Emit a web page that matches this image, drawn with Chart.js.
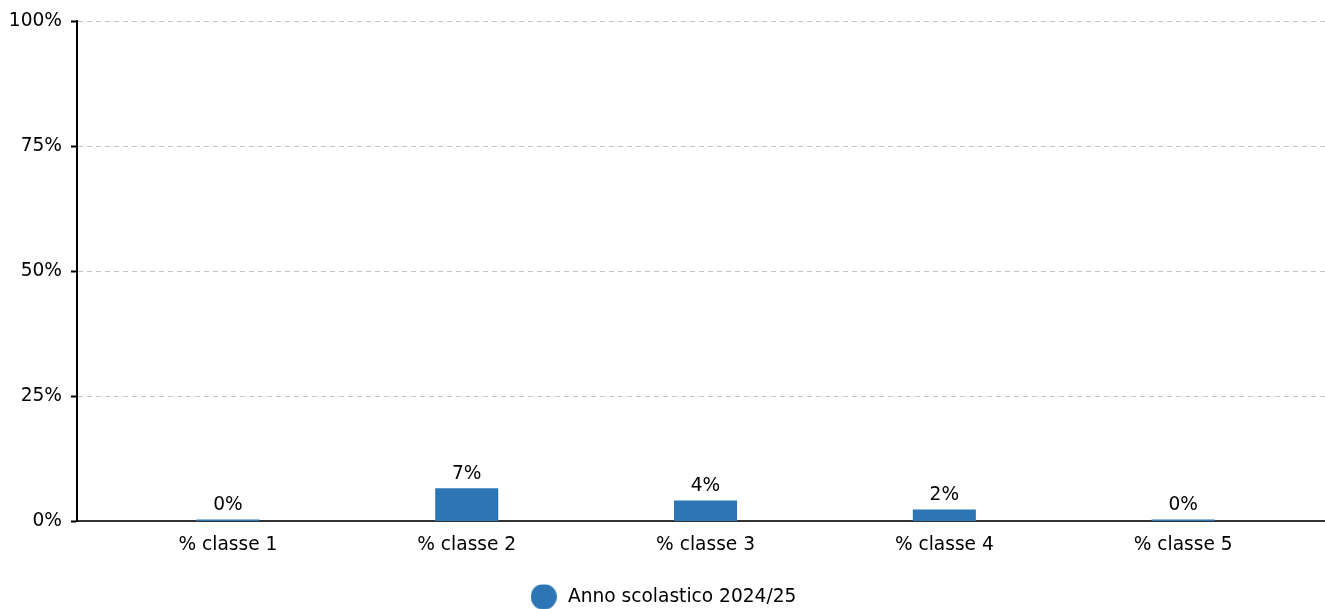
<!DOCTYPE html>
<html>
<head>
<meta charset="utf-8">
<script src="https://cdn.jsdelivr.net/npm/chart.js@4/dist/chart.umd.min.js"></script>
<style>
  html, body { margin: 0; padding: 0; background: #fff; }
  #wrap { width: 1325px; height: 609px; }
</style>
</head>
<body>
<div id="wrap"><canvas id="chart"></canvas></div>
<script>
const categories = ['% classe 1', '% classe 2', '% classe 3', '% classe 4', '% classe 5'];
const values = [0, 6.6, 4.2, 2.4, 0];
const valueLabels = ['0%', '7%', '4%', '2%', '0%'];
const yTicks = [0, 25, 50, 75, 100];
const seriesName = 'Anno scolastico 2024/25';

const FONT = "'DejaVu Sans', sans-serif";
const FSIZE = 18.6;
const BLUE = '#2e75b6';

// round legend marker
const dot = document.createElement('canvas');
dot.width = 26; dot.height = 26;
const dctx = dot.getContext('2d');
dctx.fillStyle = BLUE;
dctx.beginPath();
dctx.arc(13, 13, 13, 0, Math.PI * 2);
dctx.fill();

// labels above each bar
const barLabels = {
    id: 'barLabels',
    afterDatasetsDraw(chart) {
        const ctx = chart.ctx;
        const meta = chart.getDatasetMeta(0);
        ctx.save();
        ctx.font = FSIZE + 'px ' + FONT;
        ctx.fillStyle = '#000';
        ctx.textAlign = 'center';
        ctx.textBaseline = 'bottom';
        meta.data.forEach((bar, i) => {
            ctx.fillText(valueLabels[i], bar.x, bar.y - 5);
        });
        ctx.restore();
    }
};

new Chart(document.getElementById('chart'), {
    type: 'bar',
    data: {
        datasets: [{
            label: seriesName,
            data: values.map((v, i) => ({ x: i, y: v })),
            backgroundColor: BLUE,
            borderWidth: 0,
            minBarLength: 2,
            barPercentage: 0.264,
            categoryPercentage: 1,
            pointStyle: dot
        }]
    },
    options: {
        responsive: true,
        maintainAspectRatio: false,
        animation: false,
        layout: { padding: { top: 21, right: 0, left: 0, bottom: -7 } },
        plugins: {
            tooltip: { enabled: false },
            legend: {
                position: 'bottom',
                labels: {
                    usePointStyle: true,
                    pointStyleWidth: 30,
                    color: '#000',
                    font: { family: FONT, size: FSIZE },
                    padding: 3
                }
            }
        },
        scales: {
            x: {
                type: 'linear',
                offset: false,
                min: -0.632,
                max: 4.594,
                afterBuildTicks: s => { s.ticks = categories.map((c, i) => ({ value: i })); },
                afterFit: s => { s.height = 63; },
                grid: { display: false },
                border: { display: true, color: '#333', width: 2 },
                ticks: {
                    color: '#000',
                    font: { family: FONT, size: FSIZE },
                    padding: 5,
                    autoSkip: false,
                    maxRotation: 0,
                    callback: v => categories[v]
                }
            },
            y: {
                min: 0,
                max: 100,
                afterBuildTicks: s => { s.ticks = yTicks.map(v => ({ value: v })); },
                afterFit: s => { s.width = 77; },
                grid: {
                    color: '#c4c4c4',
                    lineWidth: 1,
                    tickLength: 6,
                    tickColor: '#000',
                    tickWidth: 2,
                    tickBorderDash: []
                },
                border: { display: true, color: '#000', width: 2, dash: [5, 4] },
                ticks: {
                    color: '#000',
                    font: { family: FONT, size: FSIZE },
                    padding: 9,
                    callback: v => v + '%'
                }
            }
        }
    },
    plugins: [barLabels]
});
</script>
</body>
</html>
